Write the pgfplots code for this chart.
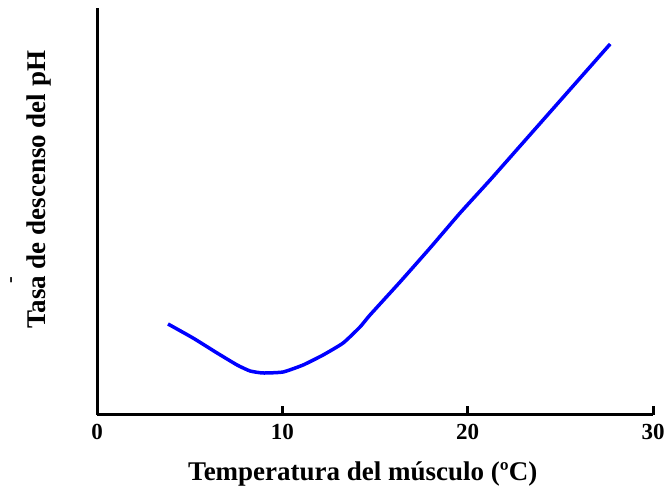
\documentclass[border=0pt]{standalone}
\usepackage{pgfplots}
\pgfplotsset{compat=1.18}
\usepackage{fontspec}
\setmainfont{Liberation Serif}
\begin{document}
\begin{tikzpicture}[x=1bp,y=1bp]
\useasboundingbox (0,0) rectangle (665,486);
\begin{axis}[
  at={(97bp,71bp)}, anchor=south west,
  width=556bp, height=407bp, scale only axis,
  xmin=0, xmax=30, ymin=0, ymax=407,
  axis x line*=bottom, axis y line*=left,
  axis line style={line width=3bp, black},
  ytick=\empty,
  xtick={0,10,20,30},
  tick align=inside,
  major tick length=9bp,
  xtick style={draw=black, line width=3bp},
  /pgf/number format/assume math mode=true,
  xticklabel style={font=\bfseries\fontsize{23bp}{27bp}\selectfont, anchor=base, yshift=-25bp},
  xlabel={Temperatura del músculo (ºC)},
  ylabel={Tasa de descenso del pH},
  xlabel style={font=\bfseries\fontsize{27bp}{32bp}\selectfont, at={(axis description cs:0.478,-0.160)}, anchor=base},
  ylabel style={font=\bfseries\fontsize{27bp}{32bp}\selectfont, at={(axis description cs:-0.0935,0.553)}, anchor=base, rotate=0},
  clip=false,
]
\addplot[blue, line width=3.5bp, smooth, tension=0.3] coordinates {
(3.83,91) (5.18,77) (6.48,62) (7.56,50) (8.26,44) (8.96,42) (10.04,43)
(11.12,50) (12.20,60) (13.28,72) (14.19,88) (14.73,100) (16.35,133)
(17.97,167) (19.59,202) (21.21,235) (22.83,269) (24.45,303) (26.07,337) (27.69,371)
};
\end{axis}
\node[rotate=90, font=\bfseries\fontsize{20bp}{22bp}\selectfont, inner sep=0pt] at (13,206) {-};
\end{tikzpicture}
\end{document}
